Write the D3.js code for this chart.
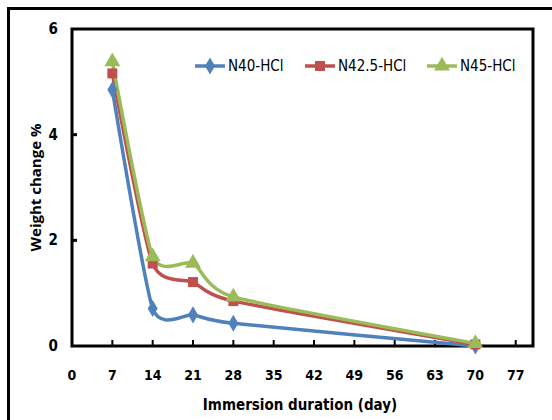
<!DOCTYPE html>
<html>
<head>
<meta charset="utf-8">
<script src="https://cdn.jsdelivr.net/npm/d3@7"></script>
<style>
  body { margin: 0; background: #fff; }
  svg { display: block; }
</style>
</head>
<body>
<svg width="552" height="420"></svg>
<script>
const days = [7, 14, 21, 28, 70];
const n40 = [4.85, 0.71, 0.59, 0.43, 0.0];
const n425 = [5.16, 1.56, 1.21, 0.85, 0.03];
const n45 = [5.38, 1.69, 1.57, 0.93, 0.05];
const seriesNames = ["N40-HCl", "N42.5-HCl", "N45-HCl"];
const xTicks = [0, 7, 14, 21, 28, 35, 42, 49, 56, 63, 70, 77];
const yTicks = [0, 2, 4, 6];

const colors = ["#4F81BD", "#C0504D", "#9BBB59"];
const symbols = [d3.symbolDiamond, d3.symbolSquare, d3.symbolTriangle];
const symSize = [85, 100, 110];
const font = "'Liberation Sans Narrow', 'DejaVu Sans Condensed', 'Liberation Sans', sans-serif";

const svg = d3.select("svg");
const margin = { top: 29, right: 19, bottom: 74, left: 72 };
const W = 552, H = 420;

const x = d3.scaleLinear().domain([0, 80]).range([margin.left, W - margin.right]);
const y = d3.scaleLinear().domain([0, 6]).range([H - margin.bottom, margin.top]);

// outer frame (cut by the image edges)
svg.append("path")
  .attr("d", `M8.5,${H + 5} V8.5 H${W + 5}`)
  .attr("fill", "none").attr("stroke", "#000").attr("stroke-width", 3);

// plot frame
svg.append("rect")
  .attr("x", x(0)).attr("y", y(6))
  .attr("width", x(80) - x(0)).attr("height", y(0) - y(6))
  .attr("fill", "none").attr("stroke", "#000").attr("stroke-width", 3);

// ticks (inside)
svg.selectAll(".xt").data(xTicks.slice(1)).join("line")
  .attr("x1", d => x(d)).attr("x2", d => x(d))
  .attr("y1", y(0)).attr("y2", y(0) - 6)
  .attr("stroke", "#000").attr("stroke-width", 2);
svg.selectAll(".yt").data(yTicks.slice(1, 3)).join("line")
  .attr("x1", x(0)).attr("x2", x(0) + 5)
  .attr("y1", d => y(d)).attr("y2", d => y(d))
  .attr("stroke", "#000").attr("stroke-width", 3);

svg.selectAll(".xl").data(xTicks).join("text")
  .attr("x", d => x(d)).attr("y", y(0) + 34)
  .attr("text-anchor", "middle")
  .attr("font-family", font).attr("font-weight", "bold").attr("font-size", 14)
  .text(d => d);
svg.selectAll(".yl").data(yTicks).join("text")
  .attr("x", x(0) - 14).attr("y", d => y(d) + 5)
  .attr("text-anchor", "end")
  .attr("font-family", font).attr("font-weight", "bold").attr("font-size", 15)
  .text(d => d);

svg.append("text")
  .attr("x", 300).attr("y", 410)
  .attr("text-anchor", "middle")
  .attr("font-family", font).attr("font-weight", "bold").attr("font-size", 15)
  .text("Immersion duration (day)");
svg.append("text")
  .attr("transform", `translate(41,${(y(0) + y(6)) / 2}) rotate(-90)`)
  .attr("text-anchor", "middle")
  .attr("font-family", "'Open Sans', 'DejaVu Sans', sans-serif").attr("font-weight", "bold").attr("font-size", 15)
  .text("Weight change %");

const data = [n40, n425, n45];
const line = d3.line()
  .x((d, i) => x(days[i]))
  .y(d => y(d))
  .curve(d3.curveCardinal.tension(0.4));

data.forEach((vals, k) => {
  svg.append("path")
    .attr("d", line(vals))
    .attr("fill", "none")
    .attr("stroke", colors[k]).attr("stroke-width", 3.5);
});
data.forEach((vals, k) => {
  svg.selectAll(".m" + k).data(vals).join("path")
    .attr("transform", (d, i) => `translate(${x(days[i])},${y(d)})`)
    .attr("d", d3.symbol().type(symbols[k]).size(symSize[k]))
    .attr("fill", colors[k]);
});

// legend
const legX = [195, 305, 427];
seriesNames.forEach((name, k) => {
  const g = svg.append("g").attr("transform", `translate(${legX[k]},66)`);
  g.append("line").attr("x1", 0).attr("x2", 30)
    .attr("stroke", colors[k]).attr("stroke-width", 3.5);
  g.append("path").attr("transform", "translate(15,0)")
    .attr("d", d3.symbol().type(symbols[k]).size(symSize[k]))
    .attr("fill", colors[k]);
  g.append("text").attr("x", 33).attr("y", 5)
    .attr("font-family", font).attr("font-size", 15)
    .text(name);
});
</script>
</body>
</html>
